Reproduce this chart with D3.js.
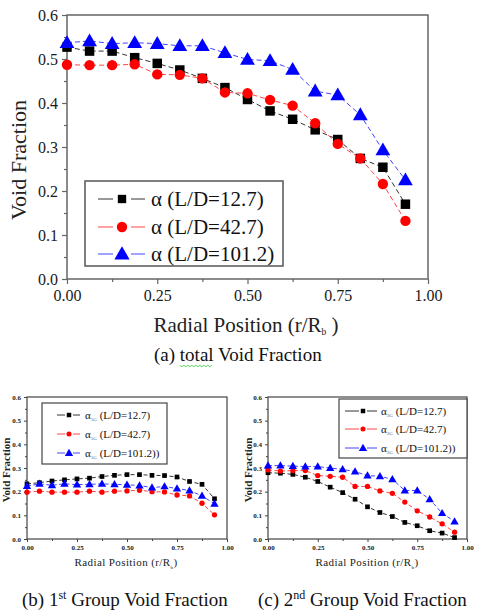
<!DOCTYPE html>
<html>
<head>
<meta charset="utf-8">
<script src="https://cdn.jsdelivr.net/npm/d3@7"></script>
<style>
  html, body { margin: 0; padding: 0; background: #fff; }
  svg, svg text { font-family: "Liberation Serif", "Times New Roman", Times, "DejaVu Serif", serif !important; }
</style>
</head>
<body>
<svg id="fig" width="484" height="614"></svg>
<script>
// Radial measurement stations (r/R)
const radialPos = [0, 0.0625, 0.125, 0.1875, 0.25, 0.3125, 0.375, 0.4375,
                   0.5, 0.5625, 0.625, 0.6875, 0.75, 0.8125, 0.875, 0.9375];

// (a) total void fraction
const totalLD127  = [0.527, 0.518, 0.518, 0.503, 0.490, 0.475, 0.456, 0.435, 0.408, 0.382, 0.363, 0.339, 0.317, 0.274, 0.254, 0.170];
const totalLD427  = [0.487, 0.486, 0.486, 0.488, 0.465, 0.464, 0.456, 0.424, 0.422, 0.407, 0.394, 0.354, 0.307, 0.274, 0.216, 0.132];
const totalLD1012 = [0.537, 0.541, 0.535, 0.537, 0.535, 0.530, 0.530, 0.514, 0.499, 0.496, 0.476, 0.427, 0.418, 0.373, 0.293, 0.225];

// (b) group-1 void fraction
const g1LD127  = [0.233, 0.238, 0.245, 0.250, 0.254, 0.257, 0.264, 0.269, 0.272, 0.272, 0.269, 0.268, 0.262, 0.243, 0.231, 0.170];
const g1LD427  = [0.198, 0.202, 0.198, 0.198, 0.198, 0.202, 0.198, 0.202, 0.203, 0.206, 0.200, 0.199, 0.186, 0.182, 0.151, 0.102];
const g1LD1012 = [0.224, 0.233, 0.227, 0.233, 0.230, 0.231, 0.233, 0.231, 0.229, 0.226, 0.217, 0.222, 0.213, 0.205, 0.182, 0.149];

// (c) group-2 void fraction
const g2LD127  = [0.280, 0.278, 0.273, 0.261, 0.243, 0.219, 0.196, 0.168, 0.136, 0.112, 0.095, 0.070, 0.056, 0.035, 0.025, 0.006];
const g2LD427  = [0.292, 0.287, 0.289, 0.289, 0.268, 0.265, 0.261, 0.222, 0.222, 0.203, 0.193, 0.156, 0.119, 0.093, 0.064, 0.029];
const g2LD1012 = [0.310, 0.310, 0.308, 0.306, 0.306, 0.300, 0.294, 0.285, 0.268, 0.265, 0.252, 0.205, 0.205, 0.168, 0.109, 0.074];

// Axis ticks and legend labels
const xTicks = [0, 0.25, 0.5, 0.75, 1.0];
const xMinorTicks = [0.125, 0.375, 0.625, 0.875];
const yTicks = [0, 0.1, 0.2, 0.3, 0.4, 0.5, 0.6];
const yMinorTicks = [0.05, 0.15, 0.25, 0.35, 0.45, 0.55];
const caseLabels = ["(L/D=12.7)", "(L/D=42.7)", "(L/D=101.2)"];
const caseLabelsSmall = ["(L/D=12.7)", "(L/D=42.7)", "(L/D=101.2))"];

const SERIF = "'Liberation Serif', 'Times New Roman', Times, 'DejaVu Serif', serif";
const svg = d3.select("#fig").attr("font-family", SERIF);

const styles = [
  { marker: d3.symbolSquare,   fill: "#000", line: "#333" },
  { marker: d3.symbolCircle,   fill: "#f00", line: "#f44" },
  { marker: d3.symbolTriangle, fill: "#00f", line: "#44f" }
];

function drawPanel(cfg) {
  const g = svg.append("g");
  const x = d3.scaleLinear().domain([0, 1]).range([cfg.left, cfg.right]);
  const y = d3.scaleLinear().domain([0, 0.6]).range([cfg.bottom, cfg.top]);

  // frame
  g.append("rect")
    .attr("x", cfg.left).attr("y", cfg.top)
    .attr("width", cfg.right - cfg.left).attr("height", cfg.bottom - cfg.top)
    .attr("fill", "none").attr("stroke", cfg.frameColor).attr("stroke-width", cfg.frameWidth);

  // axes, major + minor ticks
  const xAx = g.append("g").attr("transform", `translate(0,${cfg.bottom})`)
    .call(d3.axisBottom(x).tickValues(xTicks).tickSize(cfg.majorTick).tickPadding(cfg.xPad)
      .tickFormat(d3.format(".2f")));
  const xMin = g.append("g").attr("transform", `translate(0,${cfg.bottom})`)
    .call(d3.axisBottom(x).tickValues(xMinorTicks).tickSize(cfg.minorTick).tickFormat(""));
  const yAx = g.append("g").attr("transform", `translate(${cfg.left},0)`)
    .call(d3.axisLeft(y).tickValues(yTicks).tickSize(cfg.majorTick).tickPadding(cfg.yPad)
      .tickFormat(d3.format(".1f")));
  const yMin = g.append("g").attr("transform", `translate(${cfg.left},0)`)
    .call(d3.axisLeft(y).tickValues(yMinorTicks).tickSize(cfg.minorTick).tickFormat(""));

  [xAx, xMin, yAx, yMin].forEach(a => {
    a.attr("font-family", SERIF);
    a.select(".domain").remove();
    a.selectAll("line").attr("stroke", cfg.frameColor).attr("stroke-width", cfg.tickWidth);
    a.selectAll("text")
      .attr("font-family", SERIF)
      .attr("font-size", cfg.tickFont).attr("font-weight", cfg.tickWeight).attr("fill", "#1a1a1a");
  });

  // series: dashed connecting line plus markers
  const line = d3.line().x((d, i) => x(radialPos[i])).y(d => y(d));
  cfg.series.forEach((vals, k) => {
    const st = styles[k];
    g.append("path").datum(vals)
      .attr("d", line).attr("fill", "none")
      .attr("stroke", st.line).attr("stroke-width", cfg.lineWidth)
      .attr("stroke-dasharray", cfg.dash);
    g.selectAll(null).data(vals).enter().append("path")
      .attr("transform", (d, i) => `translate(${x(radialPos[i])},${y(d) + (k === 2 ? cfg.triShift : 0)})`)
      .attr("d", d3.symbol().type(st.marker).size(cfg.markerSize[k]))
      .attr("fill", st.fill);
  });

  // legend
  const L = cfg.legend;
  g.append("rect").attr("x", L.x0).attr("y", L.y0)
    .attr("width", L.x1 - L.x0).attr("height", L.y1 - L.y0)
    .attr("fill", "#fff").attr("stroke", L.stroke).attr("stroke-width", L.strokeWidth);
  L.rows.forEach((ry, k) => {
    const st = styles[k];
    g.append("line").attr("x1", L.lineX0).attr("x2", L.markX - L.gap).attr("y1", ry).attr("y2", ry)
      .attr("stroke", st.line).attr("stroke-width", cfg.lineWidth);
    g.append("line").attr("x1", L.markX + L.gap).attr("x2", L.lineX1).attr("y1", ry).attr("y2", ry)
      .attr("stroke", st.line).attr("stroke-width", cfg.lineWidth);
    g.append("path").attr("transform", `translate(${L.markX},${ry + (k === 2 ? L.triShift : 0)})`)
      .attr("d", d3.symbol().type(st.marker).size(L.markerSize[k])).attr("fill", st.fill);
    const t = g.append("text").attr("x", L.textX).attr("y", ry + L.baseline)
      .attr("font-family", SERIF).attr("font-size", L.font).attr("fill", "#111");
    t.append("tspan").text("α");
    if (L.sub) {
      t.append("tspan").attr("font-size", L.subFont).attr("dy", L.subDy).attr("fill", "#666").text(L.sub);
      t.append("tspan").attr("dy", -L.subDy).text(" " + L.labels[k]);
    } else {
      t.append("tspan").text(" " + L.labels[k]);
    }
  });

  // axis titles
  const xt = g.append("text").attr("x", cfg.xTitle.x).attr("y", cfg.xTitle.y)
    .attr("text-anchor", "middle").attr("font-family", SERIF).attr("font-size", cfg.xTitle.font)
    .attr("font-weight", cfg.xTitle.weight || "normal")
    .attr("letter-spacing", cfg.xTitle.spacing || 0).attr("fill", "#222");
  xt.append("tspan").text("Radial Position (r/R");
  xt.append("tspan").attr("font-size", cfg.xTitle.font * 0.45).attr("dy", 3).text("b");
  xt.append("tspan").attr("dy", -3).text(cfg.xTitle.closeSpace ? " )" : ")");

  g.append("text")
    .attr("transform", `translate(${cfg.yTitle.x},${cfg.yTitle.y}) rotate(-90)`)
    .attr("text-anchor", "middle").attr("font-family", SERIF).attr("font-size", cfg.yTitle.font)
    .attr("font-weight", cfg.yTitle.weight || "normal").attr("fill", "#222")
    .text("Void Fraction");
}

// (a) total
drawPanel({
  left: 67, right: 428, top: 15, bottom: 279,
  frameColor: "#666", frameWidth: 1.5, tickWidth: 1.2,
  majorTick: 5, minorTick: 3, xPad: 6, yPad: 4,
  tickFont: 16, tickWeight: "normal",
  lineWidth: 1, dash: "5,3", triShift: 1,
  markerSize: [90, 85, 95],
  series: [totalLD127, totalLD427, totalLD1012],
  legend: {
    x0: 85, x1: 283, y0: 181, y1: 266, stroke: "#555", strokeWidth: 1.5,
    rows: [199, 227, 254], lineX0: 98, lineX1: 145, markX: 122, gap: 9,
    markerSize: [70, 85, 100], triShift: 1,
    textX: 151, baseline: 7, font: 21, labels: caseLabels
  },
  xTitle: { x: 246, y: 332, font: 21, closeSpace: true },
  yTitle: { x: 26, y: 160, font: 22 }
});

// (b) group 1
drawPanel({
  left: 27, right: 227, top: 397, bottom: 539,
  frameColor: "#444", frameWidth: 1.2, tickWidth: 1,
  majorTick: 3, minorTick: 2, xPad: 3, yPad: 3,
  tickFont: 7, tickWeight: "bold",
  lineWidth: 1, dash: "4,2.5", triShift: 0.5,
  markerSize: [22, 22, 30],
  series: [g1LD127, g1LD427, g1LD1012],
  legend: {
    x0: 42, x1: 167, y0: 403, y1: 464, stroke: "#444", strokeWidth: 1.2,
    rows: [415, 434, 453], lineX0: 57, lineX1: 80, markX: 69, gap: 4,
    markerSize: [20, 20, 30], triShift: 0.5,
    textX: 85, baseline: 3.5, font: 11, sub: "1G", subFont: 5, subDy: 2.5, labels: caseLabelsSmall
  },
  xTitle: { x: 126, y: 566, font: 11, spacing: 0.4 },
  yTitle: { x: 10, y: 470, font: 11, weight: "bold" }
});

// (c) group 2
drawPanel({
  left: 268, right: 467, top: 397, bottom: 539,
  frameColor: "#444", frameWidth: 1.2, tickWidth: 1,
  majorTick: 3, minorTick: 2, xPad: 3, yPad: 3,
  tickFont: 7, tickWeight: "bold",
  lineWidth: 1, dash: "4,2.5", triShift: 0.5,
  markerSize: [22, 22, 30],
  series: [g2LD127, g2LD427, g2LD1012],
  legend: {
    x0: 339, x1: 467, y0: 399, y1: 458, stroke: "#444", strokeWidth: 1.2,
    rows: [411, 429, 448], lineX0: 345, lineX1: 377, markX: 363, gap: 4,
    markerSize: [20, 20, 30], triShift: 0.5,
    textX: 381, baseline: 3.5, font: 11, sub: "2G", subFont: 5, subDy: 2.5, labels: caseLabelsSmall
  },
  xTitle: { x: 367, y: 566, font: 11, spacing: 0.4 },
  yTitle: { x: 252, y: 470, font: 11, weight: "bold" }
});

// Figure captions
const capA = svg.append("text").attr("x", 154).attr("y", 361)
  .attr("font-family", SERIF).attr("font-size", 19).attr("fill", "#111");
capA.append("tspan").text("(a) ");
capA.append("tspan").text("total");
capA.append("tspan").text(" Void Fraction");

// spell-check squiggle under "total"
{
  const el = capA.node();
  const start = 154 + el.getSubStringLength(0, 4);
  const w = el.getSubStringLength(4, 5);
  const pts = [];
  for (let px = 0, k = 0; px <= w; px += 2, k++) pts.push([start + px, 365.5 + (k % 2 ? 1.2 : -0.2)]);
  svg.append("path").attr("d", d3.line()(pts)).attr("fill", "none")
    .attr("stroke", "#3c3").attr("stroke-width", 0.8);
}

const capB = svg.append("text").attr("x", 22).attr("y", 606)
  .attr("font-family", SERIF).attr("font-size", 19).attr("fill", "#111");
capB.append("tspan").text("(b) 1");
capB.append("tspan").attr("font-size", 12).attr("dy", -7).text("st");
capB.append("tspan").attr("dy", 7).text(" Group Void Fraction");

const capC = svg.append("text").attr("x", 258).attr("y", 606)
  .attr("font-family", SERIF).attr("font-size", 19).attr("fill", "#111");
capC.append("tspan").text("(c) 2");
capC.append("tspan").attr("font-size", 12).attr("dy", -7).text("nd");
capC.append("tspan").attr("dy", 7).text(" Group Void Fraction");
</script>
</body>
</html>
